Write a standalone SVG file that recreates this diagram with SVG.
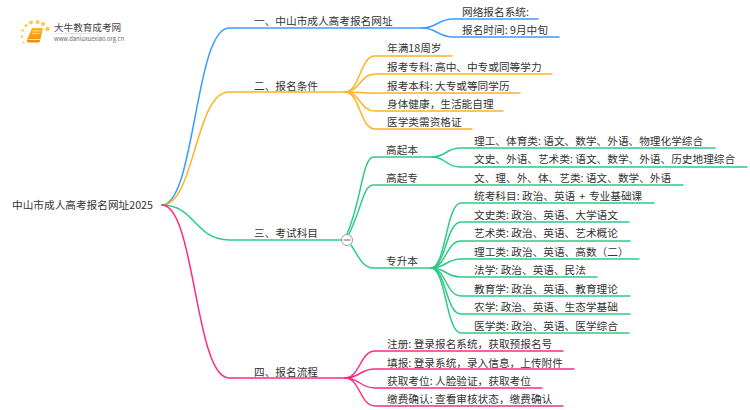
<svg xmlns="http://www.w3.org/2000/svg" width="750" height="410" viewBox="0 0 750 410">
<style>
text{font-family:"Noto Sans CJK SC","Liberation Sans",sans-serif;font-size:10.67px;fill:#333}
path{fill:none;stroke-width:1.5;stroke-linecap:round}
.b path,path.b{stroke:#3c9cff}
.o path,path.o{stroke:#ffb224}
.g path,path.g{stroke:#2ecb86}
.p path,path.p{stroke:#ff2a86}
</style>
<rect width="750" height="410" fill="#fff"/>
<g id="logo">
<defs><linearGradient id="lg" x1="0" y1="0" x2="0" y2="1"><stop offset="0" stop-color="#ffb52e"/><stop offset="1" stop-color="#f08a0c"/></linearGradient>
<linearGradient id="ul" x1="0" y1="0" x2="1" y2="0"><stop offset="0" stop-color="#ddd" stop-opacity="0"/><stop offset=".3" stop-color="#ddd"/><stop offset="1" stop-color="#ddd" stop-opacity="0"/></linearGradient></defs>
<path d="M32,28H43L40,41Q39.700,42.500 38,42.500H28.500Q26.500,42.500 27,40Z" style="fill:url(#lg);stroke:none"/>
<path d="M28.500,39.500H40" style="stroke:#ffe2a0;stroke-width:1"/>
<path d="M33,31H40M32.500,33.500H39" style="stroke:#ffdf9a;stroke-width:.8"/>
<g fill="#ffc84a"><circle cx="47.500" cy="29" r="2.200"/><circle cx="43" cy="24" r="2"/><circle cx="37.500" cy="22" r="2"/><circle cx="31" cy="22.500" r="2"/><circle cx="26" cy="25.500" r="1.500"/><circle cx="22.500" cy="30.500" r="1.300"/><circle cx="22" cy="36.500" r="1.200"/><circle cx="23.500" cy="42.500" r="1"/></g>
<rect x="45" y="33" width="88" height="1" fill="url(#ul)"/>
<text x="54" y="30.500" style="font-size:9.600px;fill:#444">大牛教育成考网</text>
<text x="54" y="41" style="font-size:5.800px;fill:#666">www.daniuxuexiao.org.cn</text>
</g>
<g id="connectors">
<path class="b" d="M162,205C195,205 195,28 229,28H422"/>
<path class="o" d="M162,205C195,205 195,92 229,92H345"/>
<path class="g" d="M162,205C195,205 195,240 229,240H341"/>
<path class="p" d="M162,205C195,205 195,378 229,378H345"/>
<g class="b"><path d="M422,28C437,28 438,19 453,19H538"/><path d="M422,28C437,28 438,37 453,37H559"/></g>
<g class="o"><path d="M345,92C360,92 360,56 375,56H452"/><path d="M345,92C360,92 360,74 375,74H552"/><path d="M345,92C360,92 360,93 375,93H520"/><path d="M345,92C360,92 360,111 375,111H503"/><path d="M345,92C360,92 360,129 375,129H472"/></g>
<g class="g"><path d="M347,234C362,200 362,157 374,157H432"/><path d="M349,234C363,205 363,185 374,185H683"/><path d="M351,245C358,255 362,268 374,268H431"/>
<path d="M432,157C446,157 446,148 460,148H715"/><path d="M432,157C446,157 446,167 460,167H747"/>
<path d="M431,268C446,268 446,203 461,203H654"/><path d="M431,268C446,268 446,222 461,222H629"/><path d="M431,268C446,268 446,241 461,241H630"/><path d="M431,268C446,268 446,259 461,259H639"/><path d="M431,268C446,268 446,277 461,277H597"/><path d="M431,268C446,268 446,296 461,296H630"/><path d="M431,268C446,268 446,314 461,314H630"/><path d="M431,268C446,268 446,333 461,333H629"/></g>
<g class="p"><path d="M345,378C360,378 360,351 375,351H563"/><path d="M345,378C360,378 360,369 375,369H574"/><path d="M345,378C360,378 360,388 375,388H542"/><path d="M345,378C360,378 360,406 375,406H563"/></g>
</g>
<g id="root"><text x="12" y="209">中山市成人高考报名网址2025</text></g>
<g id="n1"><text x="254" y="25">一、中山市成人高考报名网址</text></g>
<g id="n1a"><text x="462" y="16">网络报名系统:</text></g>
<g id="n1b"><text x="462" y="34">报名时间: 9月中旬</text></g>
<g id="n2"><text x="254" y="90">二、报名条件</text></g>
<g id="n2a"><text x="387" y="52">年满18周岁</text></g>
<g id="n2b"><text x="387" y="71">报考专科: 高中、中专或同等学力</text></g>
<g id="n2c"><text x="387" y="90">报考本科: 大专或等同学历</text></g>
<g id="n2d"><text x="387" y="108">身体健康，生活能自理</text></g>
<g id="n2e"><text x="387" y="126">医学类需资格证</text></g>
<g id="n3"><text x="254" y="237">三、考试科目</text></g>
<g id="toggle"><circle cx="347" cy="240" r="5.500" fill="#fff" stroke="#999" stroke-width="1"/><line x1="343.500" y1="240" x2="350.500" y2="240" stroke="#666" stroke-width="1"/></g>
<g id="n31"><text x="386" y="154">高起本</text></g>
<g id="n311"><text x="474" y="145">理工、体育类: 语文、数学、外语、物理化学综合</text></g>
<g id="n312"><text x="474" y="163">文史、外语、艺术类: 语文、数学、外语、历史地理综合</text></g>
<g id="n32"><text x="386" y="182">高起专</text></g>
<g id="n321"><text x="474" y="182">文、理、外、体、艺类: 语文、数学、外语</text></g>
<g id="n33"><text x="386" y="265">专升本</text></g>
<g id="n331"><text x="474" y="200">统考科目: 政治、英语 <tspan dx="1.500">+</tspan><tspan dx="1.500"> 专业基础课</tspan></text></g>
<g id="n332"><text x="474" y="219">文史类: 政治、英语、大学语文</text></g>
<g id="n333"><text x="474" y="237">艺术类: 政治、英语、艺术概论</text></g>
<g id="n334"><text x="474" y="256">理工类: 政治、英语、高数（二）</text></g>
<g id="n335"><text x="474" y="274">法学: 政治、英语、民法</text></g>
<g id="n336"><text x="474" y="293">教育学: 政治、英语、教育理论</text></g>
<g id="n337"><text x="474" y="311">农学: 政治、英语、生态学基础</text></g>
<g id="n338"><text x="474" y="330">医学类: 政治、英语、医学综合</text></g>
<g id="n4"><text x="254" y="376">四、报名流程</text></g>
<g id="n41"><text x="387" y="348">注册: 登录报名系统，获取预报名号</text></g>
<g id="n42"><text x="387" y="367">填报: 登录系统，录入信息，上传附件</text></g>
<g id="n43"><text x="387" y="385">获取考位: 人脸验证，获取考位</text></g>
<g id="n44"><text x="387" y="403">缴费确认: 查看审核状态，缴费确认</text></g>
</svg>
